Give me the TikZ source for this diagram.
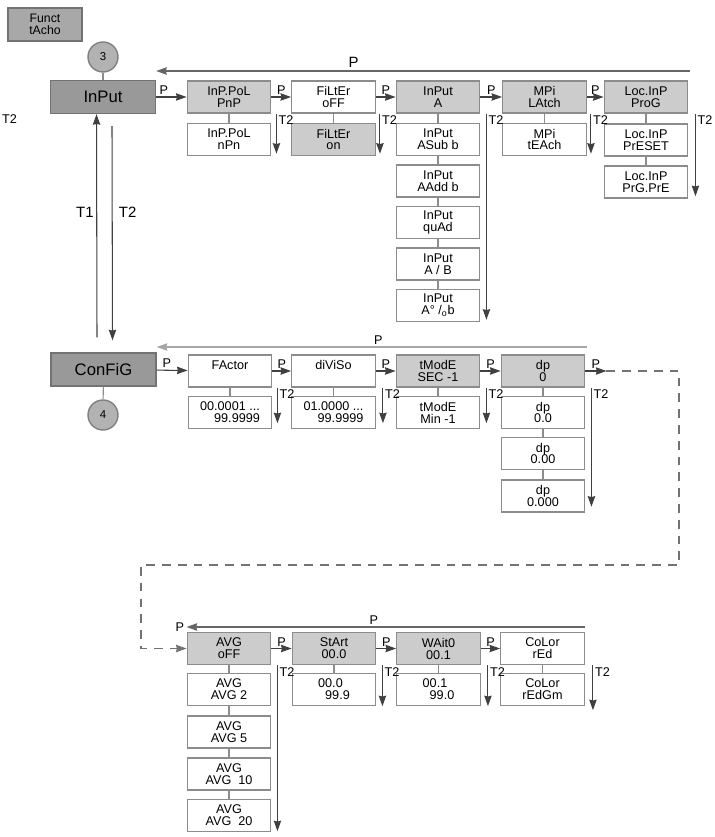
\documentclass[tikz,border=0pt]{standalone}
\usepackage{fontspec}
\setmainfont{Liberation Sans}
\usetikzlibrary{arrows.meta}

\begin{document}
\begin{tikzpicture}[x=0.02cm, y=-0.02cm, >={Stealth[length=6pt,width=4.2pt,inset=0.5pt]},
  box/.style={draw=black!45, line width=0.8pt, fill=white, minimum width=1.67cm, minimum height=0.64cm, inner sep=0pt, align=center, font=\fontsize{7.2}{6.8}\selectfont},
  sel/.style={box, fill=black!20},
  main/.style={box, fill=black!40, draw=black!55, minimum width=2.1cm, minimum height=0.66cm, font=\fontsize{9.5}{10}\selectfont},
  num/.style={circle, draw=black!50, fill=black!30, line width=0.8pt, minimum size=0.6cm, inner sep=0pt, font=\fontsize{6.5}{7}\selectfont},
  arr/.style={->, draw=black!75, line width=0.6pt},
  link/.style={draw=black!45, line width=0.6pt},
  back/.style={<-, draw=black!60, line width=0.8pt},
  dashline/.style={->, draw=black!55, line width=0.7pt, dash pattern=on 5pt off 4pt},
  lbl/.style={font=\fontsize{7.2}{7}\selectfont, inner sep=1pt},
  big/.style={font=\fontsize{8.5}{9}\selectfont, inner sep=1.5pt}]
  \useasboundingbox (0,0) rectangle (715,837);
  \node[lbl, anchor=west] (t2x) at (0,119) {T2};
  \node[main, fill=black!34, minimum width=1.48cm, font=\fontsize{7}{6.8}\selectfont] (fun) at (45,24.5) {Funct\\tAcho};
  \node[num] (n3) at (103,57) {3};
  \node[main] (inp) at (103,97) {InPut};
  \draw[link] (n3) -- (inp);
  \node[sel] (pol) at (229,97) {InP.PoL\\PnP};
  \node[box] (pol1) at (229,139.5) {InP.PoL\\nPn};
  \node[box] (fil) at (333.5,97) {FiLtEr\\oFF};
  \node[sel] (fil1) at (333.5,139.5) {FiLtEr\\on};
  \node[sel] (ina) at (438,97) {InPut\\A};
  \node[box] (ina1) at (438,139.5) {InPut\\ASub b};
  \node[box] (ina2) at (438,181) {InPut\\AAdd b};
  \node[box] (ina3) at (438,222.5) {InPut\\quAd};
  \node[box] (ina4) at (438,264) {InPut\\A / B};
  \node[box] (ina5) at (438,305.5) {InPut\\A° /\textsubscript{o}b};
  \node[sel] (mpi) at (544.5,97) {MPi\\LAtch};
  \node[box] (mpi1) at (544.5,139.5) {MPi\\tEAch};
  \node[sel] (loc) at (646,97) {Loc.InP\\ProG};
  \node[box] (loc1) at (646,140) {Loc.InP\\PrESET};
  \node[box] (loc2) at (646,182) {Loc.InP\\PrG.PrE};
  \draw[arr] (inp) -- (pol) node[lbl, pos=0.25, above] {P};
  \foreach \a/\b in {pol/fil, fil/ina, ina/mpi, mpi/loc}
    \draw[arr] (\a) -- (\b) node[lbl, midway, above] {P};
  \foreach \a/\b in {pol/pol1, fil/fil1, ina/ina1, ina1/ina2, ina2/ina3, ina3/ina4, ina4/ina5, mpi/mpi1, loc/loc1, loc1/loc2}
    \draw[link] (\a) -- (\b);
  \foreach \a/\b/\s in {pol/pol1/0.1, fil/fil1/0.08, ina/ina5/0.12, mpi/mpi1/0.08, loc/loc2/0.14}
    \draw[arr] ([xshift=\s cm]\a.south east) -- ([xshift=\s cm, yshift=0.05cm]\b.south east) node[lbl, pos=0, anchor=north west] {T2};
  \coordinate (r1) at (690,71);
  \draw[back] (r1 -| inp.east) -- (r1) node[big, pos=0.37, above] {P};
  \node[main] (cfg) at (103.5,369.5) {ConFiG};
  \node[num] (n4) at (103,415) {4};
  \draw[link] (cfg) -- (n4);
  \draw[arr] ([xshift=-0.13cm, yshift=0.3cm]cfg.north) -- ([xshift=-0.13cm]inp.south) node[big, pos=0.56, left] {T1};
  \draw[arr] ([xshift=0.18cm, yshift=-0.24cm]inp.south) -- ([xshift=0.18cm, yshift=0.24cm]cfg.north) node[big, pos=0.4, right=2pt] {T2};
  \node[box] (fac) at (230,371) {FActor\\\mbox{}};
  \node[box, align=right] (fac1) at (230,412.5) {00.0001 ...\\99.9999};
  \node[box] (div) at (333.5,371) {diViSo\\\mbox{}};
  \node[box, align=right] (div1) at (333.5,412.5) {01.0000 ...\\99.9999};
  \node[sel] (tmo) at (438,371) {tModE\\SEC -1};
  \node[box] (tmo1) at (438,412.5) {tModE\\Min -1};
  \node[sel] (dp) at (543,371) {dp\\0};
  \node[box] (dp1) at (543,412.5) {dp\\0.0};
  \node[box] (dp2) at (543,453.5) {dp\\0.00};
  \node[box] (dp3) at (543,496) {dp\\0.000};
  \draw[arr] (cfg) -- (fac) node[lbl, pos=0.33, above] {P};
  \foreach \a/\b in {fac/div, div/tmo, tmo/dp}
    \draw[arr] (\a) -- (\b) node[lbl, midway, above] {P};
  \foreach \a/\b in {fac/fac1, div/div1, tmo/tmo1, dp/dp1, dp1/dp2, dp2/dp3}
    \draw[link] (\a) -- (\b);
  \foreach \a/\b/\s in {fac/fac1/0.1, div/div1/0.14, tmo/tmo1/0.12, dp/dp3/0.12}
    \draw[arr] ([xshift=\s cm]\a.south east) -- ([xshift=\s cm, yshift=0.12cm]\b.south east) node[lbl, pos=0, anchor=north west] {T2};
  \coordinate (r2) at (587,347);
  \draw[back, draw=black!35] (r2 -| cfg.east) -- (r2) node[lbl, pos=0.515, above] {P};
  \coordinate (dpo) at ([xshift=0.42cm]dp.east);
  \draw[arr] (dp) -- (dpo) node[lbl, midway, above] {P};
  \node[sel] (avg) at (229,648.5) {AVG\\oFF};
  \node[box] (avg1) at (229,689.5) {AVG\\AVG 2};
  \node[box] (avg2) at (229,732) {AVG\\AVG 5};
  \node[box] (avg3) at (229,774) {AVG\\AVG\ \ 10};
  \node[box] (avg4) at (229,815.5) {AVG\\AVG\ \ 20};
  \node[sel] (sta) at (334,648.5) {StArt\\00.0};
  \node[box, align=left] (sta1) at (334,689.5) {00.0\\\hspace*{4pt}99.9};
  \node[sel] (wai) at (438.5,648.5) {WAit0\\00.1};
  \node[box, align=left] (wai1) at (438.5,689.5) {00.1\\\hspace*{4pt}99.0};
  \node[box] (col) at (542.5,648.5) {CoLor\\rEd};
  \node[box] (col1) at (542.5,689.5) {CoLor\\rEdGm};
  \coordinate (d1) at (679,565);
  \coordinate (d2) at (141,565);
  \draw[dashline] (dpo) -| (d1) -- (d2) |- (avg);
  \foreach \a/\b in {avg/sta, sta/wai, wai/col}
    \draw[arr] (\a) -- (\b) node[lbl, midway, above] {P};
  \foreach \a/\b in {avg/avg1, avg1/avg2, avg2/avg3, avg3/avg4, sta/sta1, wai/wai1, col/col1}
    \draw[link] (\a) -- (\b);
  \foreach \a/\b/\s/\e in {avg/avg4/0.12/0.02, sta/sta1/0.12/0.0, wai/wai1/0.14/0.0, col/col1/0.16/-0.08}
    \draw[arr] ([xshift=\s cm]\a.south east) -- ([xshift=\s cm, yshift=\e cm]\b.south east) node[lbl, pos=0, anchor=north west] {T2};
  \coordinate (r3) at (585,627);
  \draw[back] (r3 -| avg.west) -- (r3) node[lbl, pos=0.47, above] {P} node[lbl, pos=0, left] {P};
\end{tikzpicture}
\end{document}
